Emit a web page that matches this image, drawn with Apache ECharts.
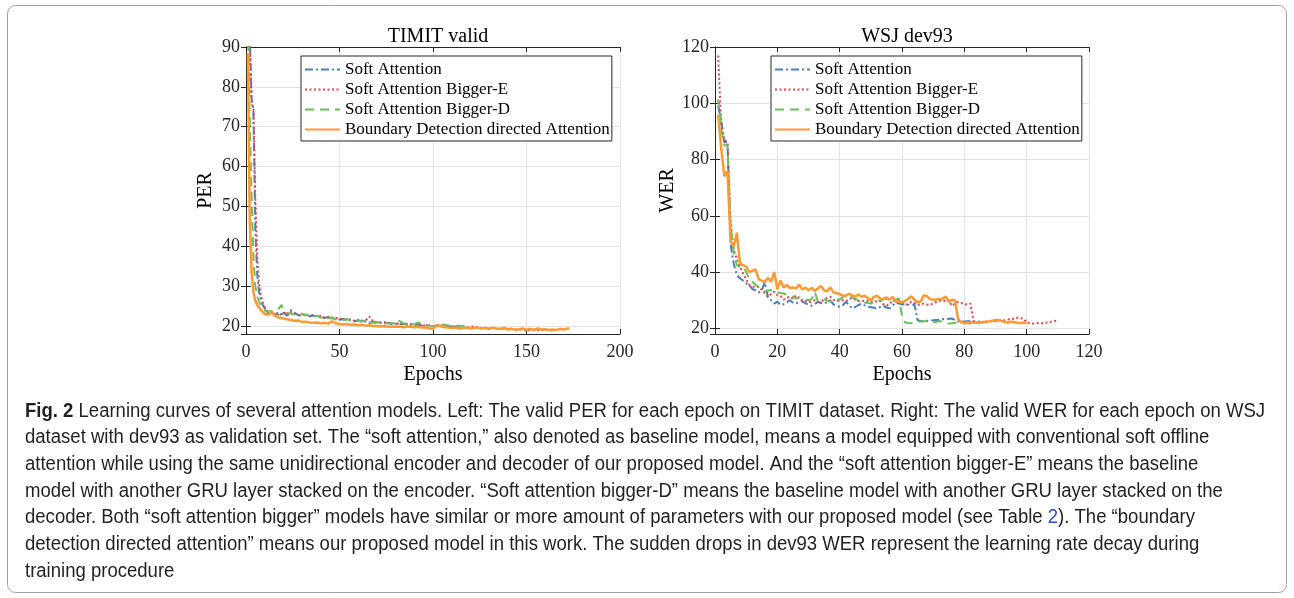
<!DOCTYPE html>
<html>
<head>
<meta charset="utf-8">
<script src="https://cdn.jsdelivr.net/npm/echarts/dist/echarts.min.js"></script>
<style>
html, body { margin: 0; padding: 0; background: #fff; }
#chart { width: 1294px; height: 598px; }
</style>
</head>
<body>
<div id="chart"></div>
<script>
// series names
var names = ['Soft Attention', 'Soft Attention Bigger-E', 'Soft Attention Bigger-D', 'Boundary Detection directed Attention'];

// TIMIT valid PER, [epoch, PER]
var timitSoft = [[1,98],[2,93],[3,77],[4,74],[5,44],[6,33],[7,28.5],[8,26.5],[9,25.2],[10,24.5],[11,23.8],[12,23.2],[13,22.9],[14,23.3],[15,23.0],[16,22.8],[17,23.5],[18,23.1],[19,22.7],[20,23.4],[21,23.0],[22,22.6],[23,23.2],[24,24.0],[25,24.4],[26,23.3],[27,23.0],[28,22.7],[29,23.1],[30,22.6],[32,22.9],[34,22.4],[36,22.7],[38,22.2],[40,22.4],[42,22.0],[44,22.2],[46,21.7],[48,21.9],[50,21.6],[52,21.8],[54,21.4],[56,21.6],[58,21.2],[60,21.4],[62,21.0],[64,21.2],[66,20.8],[68,21.0],[70,20.7],[72,20.9],[74,20.6],[76,20.8],[78,20.5],[80,20.6],[82,20.4],[84,20.6],[86,20.3],[88,20.5],[90,20.2],[92,20.4],[94,20.1],[96,20.3],[98,20.0],[100,19.9],[102,20.1],[104,20.2],[106,19.9],[108,20.1],[110,19.8],[112,20.0],[114,19.9],[115,19.8]];
var timitBigE = [[1,97],[2,92],[3,76],[4,74.5],[5,52],[6,37],[7,30.5],[8,27.5],[9,25.8],[10,24.8],[11,24.0],[12,23.4],[13,22.8],[14,22.5],[15,22.7],[16,22.4],[17,22.9],[18,23.3],[19,22.8],[20,23.6],[21,23.1],[22,22.7],[23,23.5],[24,23.0],[25,23.6],[26,23.1],[27,22.8],[28,23.2],[30,22.7],[32,23.0],[34,22.5],[36,22.8],[38,22.3],[40,22.6],[42,22.1],[44,22.3],[46,21.9],[48,22.1],[50,21.7],[52,21.9],[54,21.5],[56,21.7],[58,21.3],[60,21.5],[62,21.2],[64,21.4],[66,22.4],[67,22.6],[68,21.1],[70,21.0],[72,20.8],[74,21.0],[76,20.7],[78,20.8],[80,20.5],[82,20.7],[84,20.4],[86,20.6],[88,20.3],[90,20.4],[92,20.2],[94,20.3],[96,20.1],[98,20.2],[100,19.9],[102,20.0],[104,19.8],[106,20.1],[108,19.9],[110,19.7],[112,19.9],[114,19.6],[116,19.8],[118,19.6],[120,19.7],[122,20.0],[124,19.6],[126,19.4],[128,19.6],[130,19.3],[132,19.5],[134,19.3],[136,19.2],[138,19.4],[140,19.1],[142,19.3],[144,19.0],[146,19.2],[148,19.0],[150,19.1],[152,18.9],[154,19.1],[156,19.0],[158,18.9],[160,19.1],[162,19.0],[164,18.9]];
var timitBigD = [[1,95],[2,72],[3,52],[4,37],[5,30],[6,27.5],[7,26],[8,25],[9,24.3],[10,24.0],[11,23.6],[12,23.3],[13,23.7],[14,23.4],[15,23.9],[16,23.5],[17,24.1],[18,23.6],[19,25.3],[20,24.0],[21,23.4],[22,23.8],[23,23.2],[24,23.6],[25,23.0],[26,23.4],[28,22.8],[30,23.1],[32,22.6],[34,22.9],[36,22.4],[38,22.6],[40,22.1],[42,22.3],[44,21.9],[46,22.2],[48,21.6],[50,21.9],[52,21.5],[54,21.7],[56,21.3],[58,21.6],[60,21.2],[62,21.4],[64,21.0],[66,21.2],[68,20.8],[70,21.0],[72,20.7],[74,20.9],[76,20.6],[78,20.8],[80,20.5],[82,21.3],[83,21.8],[84,20.7],[86,20.5],[88,20.6],[90,20.4],[92,20.9],[94,20.5],[96,20.3],[98,20.1],[100,20.0],[102,19.9],[104,20.2],[106,20.4],[108,20.1],[110,20.2],[112,20.0],[114,20.1],[116,20.0],[117,19.9]];
var timitBoundary = [[1,88.5],[2,47],[3,33.5],[4,28.5],[5,26.3],[6,25.3],[7,24.6],[8,24.0],[9,23.5],[10,23.0],[11,23.1],[12,22.9],[13,23.4],[14,23.6],[15,22.8],[16,22.4],[17,22.2],[18,22.1],[20,21.9],[22,21.7],[24,21.5],[26,21.3],[28,21.4],[30,21.0],[32,21.1],[34,20.9],[36,20.8],[38,20.9],[40,20.7],[42,20.8],[44,20.6],[46,21.2],[47,21.3],[48,20.7],[50,20.5],[52,20.4],[54,20.5],[56,20.3],[58,20.4],[60,20.2],[62,20.3],[64,20.1],[66,20.2],[68,20.0],[70,20.0],[72,19.9],[74,20.0],[76,19.8],[78,19.9],[80,19.8],[82,19.9],[84,19.7],[86,19.8],[88,19.8],[90,19.7],[92,19.8],[94,19.6],[96,19.7],[98,19.4],[100,19.3],[101,19.8],[102,20.3],[104,20.0],[106,19.7],[108,19.6],[110,19.5],[112,19.6],[114,19.4],[116,19.5],[118,19.6],[120,19.4],[122,19.5],[124,19.6],[126,19.4],[128,19.5],[130,19.3],[132,19.6],[134,19.4],[136,19.3],[138,19.5],[140,19.2],[142,19.3],[144,19.1],[146,19.2],[148,19.4],[150,19.1],[152,19.3],[154,19.0],[156,19.4],[158,19.1],[160,19.2],[162,19.0],[164,19.1],[166,19.0],[168,19.3],[170,19.1],[172,19.4],[173,19.3]];

// WSJ dev93 WER, [epoch, WER]
var wsjSoft = [[1,99],[2,94],[3,86],[4,86.5],[5,50],[6,43],[7,39],[8,37.8],[9,37],[10,36],[11,35.3],[12,34],[13,33.5],[14,32.7],[15,33.5],[16,36.5],[17,31],[18,30],[19,28.8],[20,29.5],[21,28.3],[22,28.6],[23,29.2],[24,30],[25,29.2],[26,28.8],[27,29.3],[28,29.7],[29,28.9],[30,28.4],[31,28],[32,28.6],[33,29.4],[34,29],[35,28.8],[36,29.3],[37,30],[38,28.5],[39,28],[40,27.7],[41,28.2],[42,29.4],[43,28.3],[44,27.1],[45,27.6],[46,28.3],[47,28.8],[48,28.2],[49,27.7],[50,27.5],[51,27.3],[52,27.1],[53,27.6],[54,28.0],[55,27.4],[56,27.1],[57,28.0],[58,29.2],[59,28.8],[60,28.6],[61,28.5],[62,28.4],[63,28.3],[64,28.5],[65,22.9],[66,22.6],[67,22.5],[68,22.7],[69,22.8],[70,22.9],[71,23.0],[72,23.1],[73,23.3],[74,23.2],[75,23.4],[76,23.5],[77,23.0],[78,22.4],[79,22.5],[80,22.4],[81,22.5],[82,22.6],[83,22.4],[84,22.5],[85,22.4]];
var wsjBigE = [[1,117],[2,92],[3,87],[4,86],[5,58],[6,48],[7,44.5],[8,42],[9,39.5],[10,37.5],[11,35.5],[12,35],[13,34.5],[14,34.8],[15,33.6],[16,32.5],[17,31.2],[18,32.3],[19,33],[20,31.8],[21,31.5],[22,30.2],[23,30.8],[24,31.3],[25,30.5],[26,31.8],[27,30.7],[28,30],[29,29.8],[30,29.2],[31,29.6],[32,30],[33,29.5],[34,29.4],[35,30.3],[36,30.8],[37,31.2],[38,30.2],[39,29.7],[40,29.9],[41,30.0],[42,29.6],[43,30.4],[44,30.8],[45,30.2],[46,29.7],[47,29.5],[48,30.0],[49,29.7],[50,29.4],[51,29.2],[52,29.8],[53,29.7],[54,28.6],[55,28.0],[56,28.7],[57,29.7],[58,29.9],[59,30.0],[60,29.1],[61,28.3],[62,28.7],[63,29.4],[64,29.0],[65,28.3],[66,28.6],[67,28.8],[68,28.5],[69,28.3],[70,28.9],[71,29.4],[72,29.8],[73,30.0],[74,29.6],[75,30.0],[76,28.0],[77,28.8],[78,29.4],[79,29.1],[80,28.5],[81,28.6],[82,28.8],[83,22.4],[84,22.2],[85,22.1],[86,22.0],[87,22.1],[88,22.3],[89,22.6],[90,22.5],[91,22.9],[92,22.8],[93,22.9],[94,23.1],[95,23.5],[96,23.3],[97,23.8],[98,23.6],[99,23.5],[100,22.1],[101,21.8],[102,21.7],[103,21.8],[104,21.9],[105,21.8],[106,22.1],[107,22.0],[108,22.4],[109,22.6],[110,22.9]];
var wsjBigD = [[1,101.4],[2,90.8],[3,85],[4,85],[5,56.6],[6,47],[7,42.4],[8,42],[9,42.2],[10,40],[11,37.5],[12,36.5],[13,35.5],[14,34.7],[15,33.6],[16,33],[17,33.4],[18,33.6],[19,33.2],[20,32.8],[21,32.6],[22,32.4],[23,32],[24,31.8],[25,31.3],[26,30.6],[27,31],[28,30.8],[29,30.3],[30,30],[31,30.4],[32,33],[33,29.7],[34,30],[35,30.4],[36,29.8],[37,29.4],[38,30],[39,30.6],[40,30.2],[41,31.2],[42,31.5],[43,31.8],[44,31],[45,30.5],[46,30],[47,29.6],[48,29.2],[49,29],[50,28.8],[51,29.3],[52,29.7],[53,30],[54,30.3],[55,30.6],[56,30.1],[57,29.7],[58,30.2],[59,30.6],[60,24.5],[61,22.1],[62,21.9],[63,21.8],[64,22.1],[65,22.4],[66,22.4],[67,22.5],[68,22.6],[69,22.5],[70,22.3],[71,22.2],[72,22.6],[73,22.4],[74,21.8],[75,21.7],[76,21.8],[77,22.0],[78,21.9],[79,21.8],[80,21.8],[81,21.8],[82,21.7],[83,21.6],[84,21.7],[85,21.8]];
var wsjBoundary = [[1,96],[2,84],[3,74],[4,76],[5,51],[6,49],[7,54],[8,43],[9,42.5],[10,42],[11,40],[12,40.5],[13,41],[14,37.5],[15,37],[16,36.5],[17,38],[18,36.5],[19,40],[20,34],[21,37],[22,34.5],[23,35.5],[24,34.3],[25,34.5],[26,34.2],[27,35.6],[28,33.8],[29,34.5],[30,33.5],[31,34.4],[32,33.3],[33,34.2],[34,35.1],[35,33.5],[36,33.2],[37,34.6],[38,32.8],[39,32.5],[40,32.2],[41,31.7],[42,31.6],[43,32.3],[44,31.8],[45,31.3],[46,32.0],[47,31.2],[48,31.6],[49,30.8],[50,29.9],[51,31.2],[52,31.6],[53,30.6],[54,30.4],[55,31.0],[56,30.2],[57,31.2],[58,29.5],[59,29.6],[60,29.2],[61,29.8],[62,30.5],[63,31.4],[64,30.2],[65,29.3],[66,29.5],[67,31.8],[68,31.5],[69,30.4],[70,30.2],[71,30.3],[72,30.4],[73,30.5],[74,31.3],[75,29.4],[76,30.2],[77,30.0],[78,23.3],[79,22.2],[80,21.9],[81,22.1],[82,22.3],[83,22.0],[84,22.2],[85,22.1],[86,22.3],[87,22.4],[88,22.5],[89,22.7],[90,23.0],[91,22.9],[92,22.6],[93,22.3],[94,22.0],[95,22.4],[96,22.2],[97,22.0],[98,21.8],[99,22.1],[100,22.0]];

// caption lines
var captionLines = [
    '{b|Fig. 2} Learning curves of several attention models. Left: The valid PER for each epoch on TIMIT dataset. Right: The valid WER for each epoch on WSJ',
    'dataset with dev93 as validation set. The \u201csoft attention,\u201d also denoted as baseline model, means a model equipped with conventional soft offline',
    'attention while using the same unidirectional encoder and decoder of our proposed model. And the \u201csoft attention bigger-E\u201d means the baseline',
    'model with another GRU layer stacked on the encoder. \u201cSoft attention bigger-D\u201d means the baseline model with another GRU layer stacked on the',
    'decoder. Both \u201csoft attention bigger\u201d models have similar or more amount of parameters with our proposed model (see Table {a|2}). The \u201cboundary',
    'detection directed attention\u201d means our proposed model in this work. The sudden drops in dev93 WER represent the learning rate decay during',
    'training procedure'
];

var colors = ['#4A7EBB', '#E8424B', '#6DBE5C', '#FF9A33'];
var dashes = [[8, 3, 2, 3], [2, 2.5], [9, 6], 'solid'];
var serif = 'Liberation Serif';
var sans = '"Liberation Sans"';
var capSize = 20;
var ink = '#262626';

// squeeze the caption font so the first line spans the same width as in the figure
var ctx = document.createElement('canvas').getContext('2d');
ctx.font = capSize + 'px ' + sans;
var plainFirst = captionLines[0].replace('{b|Fig. 2}', 'Fig. 2');
var capScale = 1238 / ctx.measureText(plainFirst).width;

var myChart = echarts.init(document.getElementById('chart'));

function mainX(grid, max, step) {
    return {
        type: 'value', gridIndex: grid, min: 0, max: max, interval: step, position: 'bottom',
        name: 'Epochs', nameLocation: 'middle', nameGap: 31, nameMoveOverlap: false,
        nameTextStyle: { fontFamily: serif, fontSize: 20, color: '#000' },
        axisLine: { lineStyle: { color: ink, width: 1 } },
        axisTick: { inside: true, length: 5, lineStyle: { color: ink } },
        axisLabel: { fontFamily: serif, fontSize: 18, color: ink, margin: 9 },
        splitLine: { show: true, lineStyle: { color: '#e3e3e3', width: 1 } }
    };
}
function boxX(grid, max, step) {
    return {
        type: 'value', gridIndex: grid, min: 0, max: max, interval: step, position: 'top',
        axisLine: { lineStyle: { color: ink, width: 1 } },
        axisTick: { inside: true, length: 5, lineStyle: { color: ink } },
        axisLabel: { show: false }, splitLine: { show: false }
    };
}
function mainY(grid, max, step, label, gap) {
    return {
        type: 'value', gridIndex: grid, min: 18, max: max, splitNumber: (max - 20) / step, position: 'left',
        name: label, nameLocation: 'middle', nameGap: gap, nameMoveOverlap: false,
        nameTextStyle: { fontFamily: serif, fontSize: 20, color: '#000' },
        axisLine: { show: true, lineStyle: { color: ink, width: 1 } },
        axisTick: { show: true, inside: true, length: 5, lineStyle: { color: ink } },
        axisLabel: {
            fontFamily: serif, fontSize: 18, color: ink, margin: 6,
            formatter: function (v) { return v % step === 0 ? String(v) : ''; }
        },
        splitLine: { show: true, lineStyle: { color: '#e3e3e3', width: 1 } }
    };
}
function boxY(grid, max, step) {
    return {
        type: 'value', gridIndex: grid, min: 18, max: max, splitNumber: (max - 20) / step, position: 'right',
        axisLine: { show: true, lineStyle: { color: ink, width: 1 } },
        axisTick: { show: true, inside: true, length: 5, lineStyle: { color: ink } },
        axisLabel: { show: false }, splitLine: { show: false }
    };
}

function makeSeries(data, i, axis) {
    return {
        name: names[i], type: 'line', data: data, xAxisIndex: axis, yAxisIndex: axis,
        symbol: 'none', clip: true, z: 2 + i,
        lineStyle: { color: colors[i], width: i === 3 ? 2.5 : 2, type: dashes[i] },
        itemStyle: { color: colors[i] }
    };
}

function makeLegend(left) {
    return {
        left: left, top: 56, orient: 'vertical', data: names,
        itemWidth: 35, itemHeight: 14, itemGap: 3,
        padding: [5, 2, 3, 3],
        borderColor: ink, borderWidth: 1, backgroundColor: '#fff',
        itemStyle: { opacity: 0 },
        textStyle: { fontFamily: serif, fontSize: 17, color: '#000' },
        selectedMode: false
    };
}

var graphics = [{
    type: 'rect', shape: { x: 7.5, y: 5.5, width: 1279, height: 587, r: 8 },
    style: { fill: 'none', stroke: '#a0a0a0', lineWidth: 1 }, z: 0
}];
captionLines.forEach(function (line, k) {
    graphics.push({
        type: 'text', x: 25, y: 411 + k * 26.7, scaleX: capScale,
        style: {
            text: line, fill: '#231F20', verticalAlign: 'middle',
            fontFamily: sans, fontSize: capSize,
            rich: {
                b: { fontWeight: 'bold', fontFamily: sans, fontSize: capSize, fill: '#231F20' },
                a: { fill: '#2B4FC8', fontFamily: sans, fontSize: capSize }
            }
        }
    });
});

var option = {
    animation: false,
    backgroundColor: '#fff',
    title: [
        { text: 'TIMIT valid', left: 433, top: 22, textAlign: 'center', textStyle: { fontFamily: serif, fontSize: 20, fontWeight: 'normal', color: '#000' } },
        { text: 'WSJ dev93', left: 902, top: 22, textAlign: 'center', textStyle: { fontFamily: serif, fontSize: 20, fontWeight: 'normal', color: '#000' } }
    ],
    grid: [
        { left: 246, top: 47, width: 374, height: 287, outerBoundsMode: 'none' },
        { left: 715, top: 47, width: 374, height: 287, outerBoundsMode: 'none' }
    ],
    legend: [makeLegend(301), makeLegend(771)],
    xAxis: [mainX(0, 200, 50), boxX(0, 200, 50), mainX(1, 120, 20), boxX(1, 120, 20)],
    yAxis: [mainY(0, 90, 10, 'PER', 30), boxY(0, 90, 10), mainY(1, 120, 20, 'WER', 37), boxY(1, 120, 20)],
    graphic: graphics,
    series: [
        makeSeries(timitSoft, 0, 0), makeSeries(timitBigE, 1, 0), makeSeries(timitBigD, 2, 0), makeSeries(timitBoundary, 3, 0),
        makeSeries(wsjSoft, 0, 2), makeSeries(wsjBigE, 1, 2), makeSeries(wsjBigD, 2, 2), makeSeries(wsjBoundary, 3, 2)
    ]
};

myChart.setOption(option);
</script>
</body>
</html>
